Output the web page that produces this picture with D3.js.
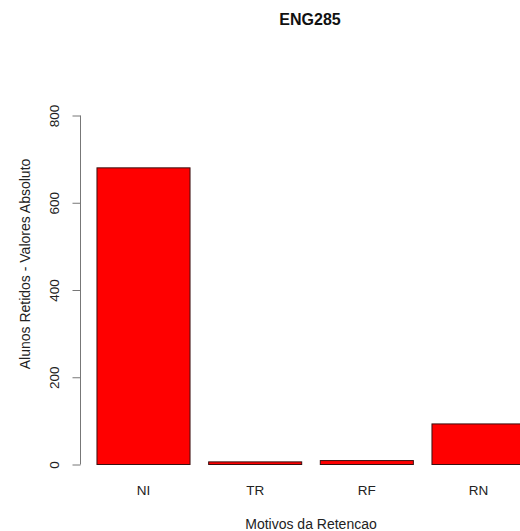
<!DOCTYPE html>
<html>
<head>
<meta charset="utf-8">
<script src="https://cdn.jsdelivr.net/npm/d3@7"></script>
<style>
  html, body { margin: 0; padding: 0; background: #fff; }
  svg { display: block; font-family: "Liberation Sans", Arial, Helvetica, sans-serif; }
</style>
</head>
<body>
<svg id="chart" width="520" height="531"></svg>
<script>
const categories = ["NI", "TR", "RF", "RN"];
const values = [680, 6, 9, 93];
const yTicks = [0, 200, 400, 600, 800];
const title = "ENG285";
const xTitle = "Motivos da Retencao";
const yTitle = "Alunos Retidos - Valores Absoluto";

const svg = d3.select("#chart");

const x = d3.scaleBand()
  .domain(categories)
  .range([80, 542])
  .paddingInner(1 / 6)
  .paddingOuter(0.152);

const y = d3.scaleLinear()
  .domain([0, 800])
  .range([464.5, 115.5]);

// bars
svg.append("g")
  .selectAll("rect")
  .data(values)
  .join("rect")
  .attr("x", (d, i) => x(categories[i]))
  .attr("y", d => y(d))
  .attr("width", x.bandwidth())
  .attr("height", d => y(0) - y(d))
  .attr("fill", "#ff0000")
  .attr("stroke", "#3a1010")
  .attr("stroke-width", 1);

// y axis
const yAxis = d3.axisLeft(y)
  .tickValues(yTicks)
  .tickSize(8)
  .tickPadding(4)
  .tickSizeOuter(0);

const gy = svg.append("g")
  .attr("transform", "translate(80,0)")
  .call(yAxis);

gy.select(".domain")
  .attr("stroke", "#777")
  .attr("d", `M0.5,${y(0)}V${y(800)}`);
gy.selectAll(".tick line").attr("stroke", "#777").attr("transform", "translate(0.5,0)");
gy.selectAll(".tick text")
  .attr("x", null).attr("dy", null)
  .attr("transform", "translate(-21,0) rotate(-90)")
  .attr("text-anchor", "middle")
  .attr("font-size", 13.5)
  .attr("font-family", "Liberation Sans, Arial, sans-serif")
  .attr("fill", "#222");

// x category labels
svg.append("g")
  .selectAll("text")
  .data(categories)
  .join("text")
  .attr("x", d => x(d) + x.bandwidth() / 2)
  .attr("y", 495)
  .attr("text-anchor", "middle")
  .attr("font-size", 13.5)
  .attr("fill", "#222")
  .text(d => d);

// titles
svg.append("text")
  .attr("x", 310).attr("y", 25)
  .attr("text-anchor", "middle")
  .attr("font-size", 16)
  .attr("font-weight", "bold")
  .attr("fill", "#111")
  .text(title);

svg.append("text")
  .attr("x", 311).attr("y", 529)
  .attr("text-anchor", "middle")
  .attr("font-size", 14)
  .attr("fill", "#222")
  .text(xTitle);

svg.append("text")
  .attr("transform", "translate(30,264) rotate(-90)")
  .attr("text-anchor", "middle")
  .attr("font-size", 14)
  .attr("fill", "#222")
  .text(yTitle);
</script>
</body>
</html>
